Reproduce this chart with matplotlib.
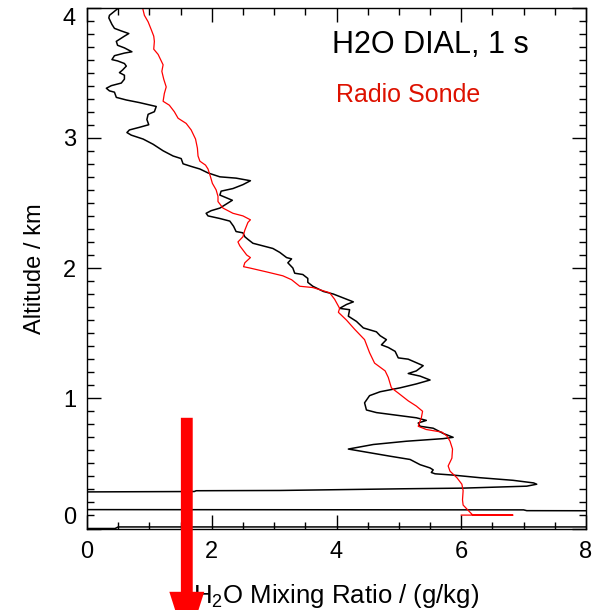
import matplotlib
matplotlib.use("Agg")
import matplotlib.pyplot as plt
from matplotlib.ticker import MultipleLocator, FixedLocator
from matplotlib.patches import FancyArrow

plt.rcParams['font.family'] = ['Liberation Sans', 'DejaVu Sans']
plt.rcParams['mathtext.fontset'] = 'custom'
plt.rcParams['mathtext.rm'] = 'Liberation Sans'
plt.rcParams['mathtext.it'] = 'Liberation Sans'

# DIAL profile (g/kg vs km), top -> bottom
dial_x = [0.49, 0.36, 0.35, 0.40, 0.44, 0.55, 0.67, 0.60, 0.47, 0.49, 0.60, 0.72, 0.60, 0.44,
          0.40, 0.49, 0.60, 0.63, 0.57, 0.52, 0.60, 0.60, 0.55, 0.39, 0.31, 0.36, 0.44, 0.47,
          0.63, 0.84, 1.11, 1.08, 0.98, 0.96, 0.99, 0.84, 0.68, 0.64, 0.71, 0.90, 1.06, 1.22,
          1.38, 1.51, 1.54, 1.67, 1.81, 1.94, 2.13, 2.39, 2.62, 2.50, 2.34, 2.15, 2.13, 2.23,
          2.33, 2.23, 2.13, 1.99, 1.91, 1.94, 2.13, 2.29, 2.35, 2.39, 2.50, 2.53, 2.58, 2.66,
          2.82, 2.98, 3.09, 3.20, 3.28, 3.22, 3.30, 3.33, 3.46, 3.54, 3.54, 3.62, 3.79, 3.95,
          4.11, 4.27, 4.16, 4.05, 4.21, 4.19, 4.32, 4.43, 4.64, 4.70, 4.80, 4.72, 4.83, 4.94,
          4.99, 5.15, 5.34, 5.39, 5.28, 5.15, 5.34, 5.50, 5.28, 5.02, 4.70, 4.53, 4.45, 4.48,
          4.64, 4.96, 5.28, 5.44, 5.31, 5.34, 5.55, 5.71, 5.87, 5.71, 5.12, 4.59, 4.19, 4.43,
          4.86, 5.18, 5.34, 5.50, 5.55, 5.52, 5.58, 5.87, 6.30, 6.83, 7.16, 7.21, 7.05, 6.03,
          5.07, 3.62, 3.09, 1.75, 1.72, 0.0, -1.0, -1.0, 0.0, 7.0, 7.05, 10.0, 10.0, 0.5,
          0.45, -1.0]
dial_y = [3.99, 3.94, 3.92, 3.87, 3.84, 3.82, 3.80, 3.78, 3.74, 3.71, 3.69, 3.66, 3.65, 3.63,
          3.60, 3.59, 3.57, 3.55, 3.52, 3.50, 3.48, 3.45, 3.42, 3.40, 3.38, 3.36, 3.35, 3.31,
          3.29, 3.27, 3.24, 3.20, 3.18, 3.14, 3.10, 3.08, 3.06, 3.04, 3.02, 2.99, 2.95, 2.90,
          2.86, 2.84, 2.80, 2.78, 2.76, 2.73, 2.70, 2.69, 2.67, 2.64, 2.61, 2.59, 2.56, 2.54,
          2.52, 2.49, 2.46, 2.44, 2.42, 2.40, 2.38, 2.36, 2.32, 2.28, 2.27, 2.24, 2.22, 2.19,
          2.17, 2.15, 2.12, 2.08, 2.07, 2.04, 2.00, 1.96, 1.95, 1.92, 1.89, 1.86, 1.82, 1.80,
          1.77, 1.74, 1.72, 1.69, 1.68, 1.63, 1.59, 1.54, 1.51, 1.48, 1.45, 1.41, 1.39, 1.36,
          1.31, 1.30, 1.26, 1.25, 1.21, 1.19, 1.17, 1.14, 1.11, 1.08, 1.05, 1.02, 0.965, 0.91,
          0.89, 0.87, 0.85, 0.83, 0.81, 0.785, 0.77, 0.73, 0.70, 0.69, 0.67, 0.645, 0.61, 0.59,
          0.555, 0.53, 0.49, 0.465, 0.45, 0.43, 0.42, 0.41, 0.39, 0.37, 0.35, 0.34, 0.325, 0.31,
          0.305, 0.295, 0.292, 0.290, 0.284, 0.281, 0.275, 0.145, 0.145, 0.143, 0.137, 0.135, 0.012, 0.012,
          0.0, 0.0]

# radio sonde profile, top -> bottom
sonde_x = [0.89, 0.92, 0.98, 1.03, 1.07, 1.08, 1.07, 1.14, 1.19, 1.22, 1.20, 1.23, 1.27, 1.24,
           1.22, 1.32, 1.40, 1.46, 1.59, 1.67, 1.74, 1.77, 1.78, 1.81, 1.90, 1.94, 1.98, 2.01,
           2.07, 2.10, 2.10, 2.18, 2.34, 2.50, 2.62, 2.58, 2.53, 2.50, 2.42, 2.45, 2.56, 2.62,
           2.53, 2.51, 2.61, 2.88, 3.14, 3.28, 3.41, 3.62, 3.89, 3.97, 4.05, 4.03, 4.16, 4.29,
           4.45, 4.53, 4.61, 4.78, 4.83, 4.88, 4.99, 5.15, 5.28, 5.38, 5.36, 5.31, 5.44, 5.69,
           5.77, 5.82, 5.86, 5.85, 5.79, 5.82, 5.93, 6.01, 6.03, 6.02, 6.03, 6.09, 6.17, 6.19,
           6.83, 6.00]
sonde_y = [4.00, 3.94, 3.89, 3.83, 3.78, 3.74, 3.68, 3.64, 3.59, 3.56, 3.51, 3.45, 3.39, 3.34,
           3.28, 3.25, 3.20, 3.15, 3.11, 3.06, 2.99, 2.92, 2.86, 2.82, 2.79, 2.76, 2.70, 2.65,
           2.60, 2.55, 2.51, 2.46, 2.42, 2.40, 2.37, 2.35, 2.29, 2.24, 2.20, 2.17, 2.10, 2.08,
           2.04, 2.01, 2.00, 1.97, 1.94, 1.91, 1.86, 1.85, 1.81, 1.76, 1.69, 1.66, 1.60, 1.53,
           1.45, 1.35, 1.27, 1.21, 1.16, 1.08, 1.04, 0.98, 0.94, 0.90, 0.85, 0.785, 0.76, 0.74,
           0.71, 0.67, 0.61, 0.54, 0.48, 0.44, 0.39, 0.34, 0.29, 0.22, 0.18, 0.15, 0.11, 0.104,
           0.103, 0.103]

alt_ticks = [0, 1, 2, 3, 4]

fig = plt.figure(figsize=(6.05, 6.10), dpi=100)
ax = fig.add_axes([0.1438, 0.1336, 0.8248, 0.8541])

ax.plot(dial_x, dial_y, color='black', lw=1.1)
ax.plot(sonde_x, sonde_y, color='red', lw=0.9)

ax.set_xlim(0, 8)
ax.set_ylim(0, 4)
ax.xaxis.set_major_locator(MultipleLocator(2))
ax.xaxis.set_minor_locator(MultipleLocator(0.5))
ax.yaxis.set_major_locator(FixedLocator(alt_ticks))
ax.yaxis.set_minor_locator(MultipleLocator(0.1))
ax.tick_params(which='both', direction='in', top=True, right=True, width=1, labelsize=17)
ax.tick_params(which='major', length=10)
ax.tick_params(which='minor', length=5)
ax.tick_params(axis='x', pad=9)
ax.tick_params(axis='y', pad=8)
for s in ax.spines.values():
    s.set_linewidth(1)

# IDL keeps the end labels inside the axis range
yt = ax.yaxis.get_major_ticks()
yt[0].label1.set_va('bottom')
yt[-1].label1.set_va('top')

ax.set_xlabel('H$_2$O Mixing Ratio / (g/kg)', fontsize=18.5, va='baseline')
ax.xaxis.set_label_coords(0.5, -0.143)
ax.set_ylabel('Altitude / km', fontsize=17, va='center')
ax.yaxis.set_label_coords(-0.105, 0.498)

ax.text(0.491, 0.9127, 'H2O DIAL, 1 s', transform=ax.transAxes, fontsize=22,
        ha='left', va='baseline')
ax.text(0.499, 0.8186, 'Radio Sonde', transform=ax.transAxes, fontsize=18,
        color='#dd1100', ha='left', va='baseline')

arrow = FancyArrow(1.6, 0.85, 0, -1.756, width=0.19, head_width=0.56, head_length=0.42,
                   length_includes_head=True, color='red', clip_on=False, zorder=5, lw=0)
ax.add_patch(arrow)

fig.savefig('out.png', dpi=100)
